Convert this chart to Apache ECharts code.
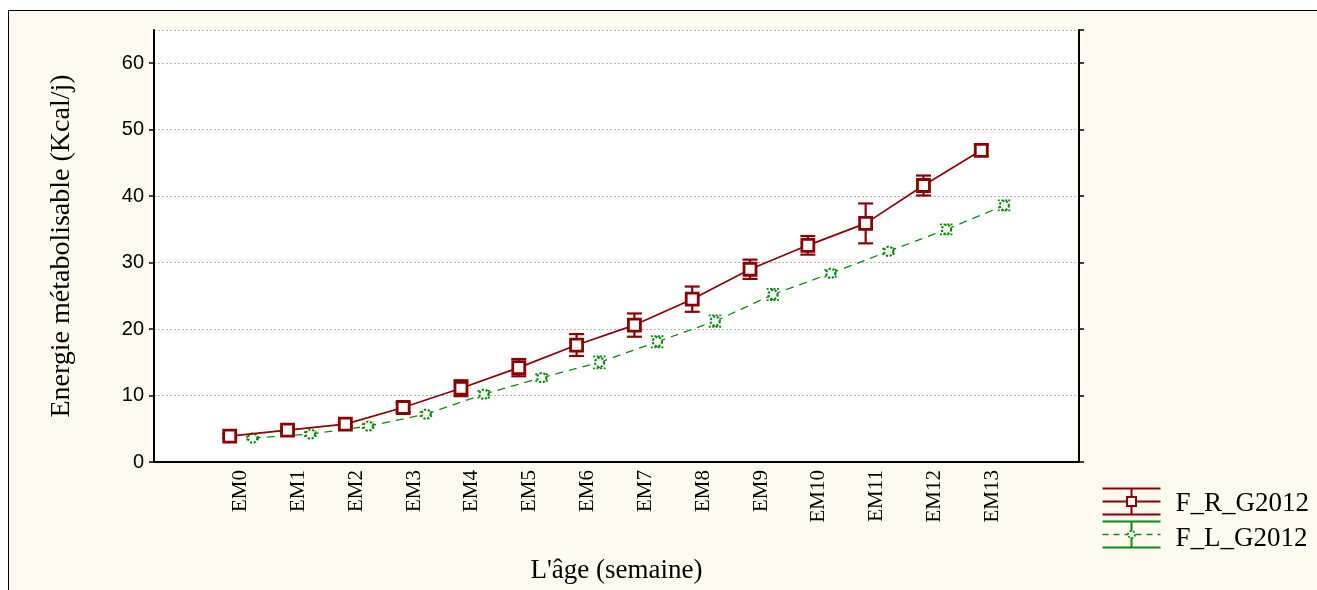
<!DOCTYPE html>
<html>
<head>
<meta charset="utf-8">
<script src="https://cdn.jsdelivr.net/npm/echarts@6/dist/echarts.min.js"></script>
<style>
  html, body { margin: 0; padding: 0; background: #ffffff; }
  #frame { position: absolute; left: 8px; top: 10px; width: 1400px; height: 700px; background: #fffaf0; border-left: 1px solid #000; border-top: 1px solid #000; }
  #chart { position: absolute; left: 0; top: 0; width: 1317px; height: 590px; }
  body { width: 1317px; height: 590px; overflow: hidden; position: relative; }
</style>
</head>
<body>
<div id="frame"></div>
<div id="chart"></div>
<script>
const categories = ['EM0','EM1','EM2','EM3','EM4','EM5','EM6','EM7','EM8','EM9','EM10','EM11','EM12','EM13'];
const redName = 'F_R_G2012';
const greenName = 'F_L_G2012';
const redMean = [3.9, 4.8, 5.7, 8.2, 11.1, 14.2, 17.6, 20.6, 24.5, 29.0, 32.6, 35.9, 41.6, 46.9];
const redErr  = [0.3, 0.3, 0.3, 0.7, 1.2, 1.3, 1.65, 1.75, 1.9, 1.45, 1.4, 3.0, 1.5, 0.85];
const greenMean = [3.6, 4.2, 5.4, 7.2, 10.2, 12.7, 15.0, 18.1, 21.2, 25.2, 28.4, 31.7, 35.0, 38.6];
const greenErr  = [0.2, 0.3, 0.3, 0.3, 0.5, 0.5, 0.9, 0.85, 0.85, 0.85, 0.5, 0.4, 0.75, 0.75];
const yTicks = [0, 10, 20, 30, 40, 50, 60];

const RED = '#8b0000';
const GREEN = '#0a8c0a';
const axisCats = [''].concat(categories, [' ']);

function rows(mean, err) {
  return categories.map((c, i) => [c, mean[i], mean[i] - err[i], mean[i] + err[i]]);
}

function makeRender(kind) {
  const isRed = kind === 'red';
  const color = isRed ? RED : GREEN;
  const offset = isRed ? -11 : 12;
  const capHalf = isRed ? 7.5 : 6.5;
  return function (params, api) {
    const xi = api.value(0);
    const c = api.coord([xi, api.value(1)]);
    const lo = api.coord([xi, api.value(2)]);
    const hi = api.coord([xi, api.value(3)]);
    const x = c[0] + offset;
    const children = [];
    if (params.dataIndexInside > 0) {
      const pi = params.dataIndexInside - 1;
      const p = api.coord([api.value(0, pi), api.value(1, pi)]);
      children.push({
        type: 'line', z2: 0,
        shape: { x1: p[0] + offset, y1: p[1], x2: x, y2: c[1] },
        style: isRed ? { stroke: color, lineWidth: 1.7 } : { stroke: color, lineWidth: 1.3, lineDash: [8, 6] }
      });
    }
    const ebStyle = isRed ? { stroke: color, lineWidth: 2.2 } : { stroke: color, lineWidth: 1.8, lineDash: [2, 1.5] };
    children.push({ type: 'line', z2: 1, shape: { x1: x, y1: lo[1], x2: x, y2: hi[1] }, style: ebStyle });
    children.push({ type: 'line', z2: 1, shape: { x1: x - capHalf, y1: lo[1], x2: x + capHalf, y2: lo[1] }, style: ebStyle });
    children.push({ type: 'line', z2: 1, shape: { x1: x - capHalf, y1: hi[1], x2: x + capHalf, y2: hi[1] }, style: ebStyle });
    if (isRed) {
      children.push({ type: 'rect', z2: 2, shape: { x: x - 6, y: c[1] - 6, width: 12, height: 12 }, style: { fill: '#fff', stroke: color, lineWidth: 2.8 } });
    } else {
      children.push({ type: 'circle', z2: 2, shape: { cx: x, cy: c[1], r: 4.6 }, style: { fill: '#fff', stroke: color, lineWidth: 2.2, lineDash: [2.2, 1.6] } });
    }
    return { type: 'group', children: children };
  };
}

const chart = echarts.init(document.getElementById('chart'), null, { renderer: 'canvas' });
const serif = 'Liberation Serif';
const sans = 'Liberation Sans';

const option = {
  backgroundColor: 'transparent',
  animation: false,
  grid: { left: 154, right: 238, top: 30, bottom: 128, show: true, backgroundColor: '#ffffff', borderWidth: 0 },
  xAxis: [
    {
      type: 'category', data: axisCats, position: 'bottom', boundaryGap: true,
      axisLine: { lineStyle: { color: '#000', width: 2 } },
      axisTick: { alignWithLabel: true, inside: true, length: 5, interval: 0, lineStyle: { color: '#000', width: 1.5 } },
      axisLabel: { interval: 0, rotate: 90, margin: 8, color: '#000', fontFamily: serif, fontSize: 21 },
      name: "L'âge (semaine)", nameLocation: 'middle', nameGap: 95,
      nameTextStyle: { color: '#000', fontFamily: serif, fontSize: 27, verticalAlign: 'top' },
      splitLine: { show: false }
    },
    {
      type: 'category', data: axisCats, position: 'top', boundaryGap: true,
      axisLine: { lineStyle: { color: '#000', width: 2 } },
      axisTick: { alignWithLabel: true, inside: true, length: 5, interval: 0, lineStyle: { color: '#000', width: 1.5 } },
      axisLabel: { show: false }, splitLine: { show: false }
    }
  ],
  yAxis: [
    {
      type: 'value', min: 0, max: 65, interval: 10, position: 'left',
      axisLine: { show: true, lineStyle: { color: '#000', width: 2 } },
      axisTick: { show: true, length: 5, lineStyle: { color: '#000', width: 1.5 } },
      axisLabel: { color: '#000', fontFamily: sans, fontSize: 20, margin: 10, showMaxLabel: false,
        formatter: v => (yTicks.indexOf(v) >= 0 ? String(v) : '') },
      splitLine: { show: true, lineStyle: { color: '#b4b4b4', type: [2, 2], width: 1 } },
      name: 'Energie métabolisable (Kcal/j)', nameLocation: 'middle', nameGap: 78,
      nameTextStyle: { color: '#000', fontFamily: serif, fontSize: 28 }
    },
    {
      type: 'value', min: 0, max: 65, interval: 10, position: 'right',
      axisLine: { show: true, lineStyle: { color: '#000', width: 2 } },
      axisTick: { show: true, length: 5, lineStyle: { color: '#000', width: 1.5 } },
      axisLabel: { show: false }, splitLine: { show: false }
    }
  ],
  series: [
    {
      name: greenName, type: 'custom', z: 2, xAxisIndex: 0, yAxisIndex: 0,
      renderItem: makeRender('green'), encode: { x: 0, y: [1, 2, 3] },
      data: rows(greenMean, greenErr), clip: false
    },
    {
      name: redName, type: 'custom', z: 3, xAxisIndex: 0, yAxisIndex: 0,
      renderItem: makeRender('red'), encode: { x: 0, y: [1, 2, 3] },
      data: rows(redMean, redErr), clip: false
    }
  ],
  graphic: [
    {
      type: 'group', left: 1100, top: 486,
      children: [
        { type: 'line', shape: { x1: 0, y1: 0, x2: 58, y2: 0 }, style: { stroke: RED, lineWidth: 2 } },
        { type: 'line', shape: { x1: 0, y1: 13, x2: 58, y2: 13 }, style: { stroke: RED, lineWidth: 2 } },
        { type: 'line', shape: { x1: 0, y1: 26, x2: 58, y2: 26 }, style: { stroke: RED, lineWidth: 2 } },
        { type: 'line', shape: { x1: 29, y1: 0, x2: 29, y2: 26 }, style: { stroke: RED, lineWidth: 2 } },
        { type: 'rect', shape: { x: 24.5, y: 8.5, width: 9, height: 9 }, style: { fill: '#fff', stroke: RED, lineWidth: 2 } },
        { type: 'text', x: 73, y: 15, style: { text: redName, fill: '#000', font: '27px "Liberation Serif"', verticalAlign: 'middle' } },

        { type: 'line', shape: { x1: 0, y1: 33, x2: 58, y2: 33 }, style: { stroke: GREEN, lineWidth: 2 } },
        { type: 'line', shape: { x1: 0, y1: 46, x2: 58, y2: 46 }, style: { stroke: GREEN, lineWidth: 1.5, lineDash: [6, 5] } },
        { type: 'line', shape: { x1: 0, y1: 59, x2: 58, y2: 59 }, style: { stroke: GREEN, lineWidth: 2 } },
        { type: 'line', shape: { x1: 29, y1: 33, x2: 29, y2: 59 }, style: { stroke: GREEN, lineWidth: 2 } },
        { type: 'circle', shape: { cx: 29, cy: 46, r: 3.5 }, style: { fill: '#fff', stroke: GREEN, lineWidth: 1.8, lineDash: [2, 1.5] } },
        { type: 'text', x: 73, y: 50, style: { text: greenName, fill: '#000', font: '27px "Liberation Serif"', verticalAlign: 'middle' } }
      ]
    }
  ]
};
chart.setOption(option);
</script>
</body>
</html>
